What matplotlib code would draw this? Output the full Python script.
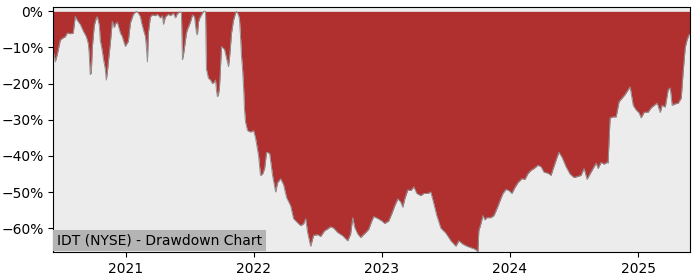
import numpy as np
import pandas as pd
import matplotlib
matplotlib.use('Agg')
import matplotlib.pyplot as plt
import matplotlib.dates as mdates
from matplotlib.ticker import PercentFormatter

titulo = 'IDT (NYSE) - Drawdown Chart'

# fecha en años decimales y caída desde máximos en %
anios = [
    2020.435, 2020.443, 2020.451, 2020.466, 2020.490, 2020.505, 2020.529, 2020.545,
    2020.568, 2020.591, 2020.607, 2020.623, 2020.646, 2020.670, 2020.693, 2020.709,
    2020.716, 2020.724, 2020.732, 2020.740, 2020.755, 2020.771, 2020.779, 2020.795,
    2020.802, 2020.818, 2020.826, 2020.841, 2020.849, 2020.857, 2020.865, 2020.880,
    2020.896, 2020.912, 2020.920, 2020.935, 2020.951, 2020.959, 2020.974, 2020.982,
    2020.998, 2021.005, 2021.021, 2021.037, 2021.060, 2021.084, 2021.099, 2021.115,
    2021.123, 2021.138, 2021.154, 2021.162, 2021.170, 2021.177, 2021.193, 2021.209,
    2021.232, 2021.248, 2021.271, 2021.287, 2021.295, 2021.310, 2021.334, 2021.349,
    2021.373, 2021.388, 2021.404, 2021.420, 2021.435, 2021.443, 2021.451, 2021.459,
    2021.474, 2021.482, 2021.505, 2021.521, 2021.537, 2021.552, 2021.560, 2021.568,
    2021.576, 2021.591, 2021.607, 2021.623, 2021.630, 2021.646, 2021.662, 2021.677,
    2021.693, 2021.701, 2021.709, 2021.716, 2021.724, 2021.732, 2021.748, 2021.755,
    2021.771, 2021.787, 2021.802, 2021.810, 2021.826, 2021.841, 2021.857, 2021.865,
    2021.880, 2021.888, 2021.896, 2021.904, 2021.912, 2021.920, 2021.927, 2021.935,
    2021.951, 2021.974, 2021.998, 2022.013, 2022.037, 2022.052, 2022.068, 2022.084,
    2022.099, 2022.123, 2022.146, 2022.170, 2022.185, 2022.209, 2022.232, 2022.255,
    2022.287, 2022.310, 2022.341, 2022.365, 2022.388, 2022.404, 2022.420, 2022.443,
    2022.466, 2022.498, 2022.521, 2022.552, 2022.576, 2022.599, 2022.623, 2022.654,
    2022.693, 2022.732, 2022.755, 2022.771, 2022.787, 2022.810, 2022.834, 2022.849,
    2022.873, 2022.896, 2022.920, 2022.935, 2022.966, 2022.998, 2023.021, 2023.052,
    2023.076, 2023.099, 2023.123, 2023.146, 2023.162, 2023.177, 2023.201, 2023.224,
    2023.248, 2023.271, 2023.302, 2023.326, 2023.357, 2023.380, 2023.404, 2023.427,
    2023.459, 2023.498, 2023.537, 2023.576, 2023.599, 2023.630, 2023.662, 2023.693,
    2023.724, 2023.748, 2023.755, 2023.771, 2023.787, 2023.802, 2023.818, 2023.849,
    2023.873, 2023.896, 2023.920, 2023.943, 2023.966, 2023.990, 2024.013, 2024.037,
    2024.060, 2024.091, 2024.115, 2024.138, 2024.162, 2024.185, 2024.216, 2024.240,
    2024.263, 2024.295, 2024.318, 2024.341, 2024.365, 2024.380, 2024.404, 2024.435,
    2024.466, 2024.498, 2024.552, 2024.576, 2024.599, 2024.630, 2024.670, 2024.685,
    2024.709, 2024.732, 2024.755, 2024.763, 2024.779, 2024.802, 2024.826, 2024.849,
    2024.873, 2024.896, 2024.920, 2024.935, 2024.959, 2024.982, 2025.005, 2025.021,
    2025.045, 2025.076, 2025.099, 2025.123, 2025.146, 2025.170, 2025.185, 2025.209,
    2025.232, 2025.248, 2025.263, 2025.287, 2025.310, 2025.334, 2025.349, 2025.365,
    2025.380, 2025.396, 2025.404,
]

caida = [
    -11.4, -12.0, -14.0, -12.0, -8.0, -7.5, -7.0, -6.0,
    -6.2, -6.0, -1.4, -2.5, -3.6, -5.5, -7.0, -9.0,
    -12.0, -17.5, -17.0, -10.0, -4.0, -1.8, -1.5, -4.0,
    -8.0, -11.0, -13.0, -16.0, -19.0, -17.0, -14.0, -9.0,
    -2.8, -4.5, -3.5, -3.0, -5.0, -6.0, -7.0, -8.0,
    -9.7, -9.2, -8.3, -3.2, -0.8, 0.0, -0.5, -1.5,
    -3.0, -5.0, -7.0, -10.0, -14.0, -6.0, -1.5, -1.0,
    -1.2, -0.8, -1.8, -1.2, -3.6, -1.5, -0.8, -1.2,
    -0.5, -1.8, -0.6, -0.2, -0.3, -13.4, -12.0, -10.0,
    -6.0, -5.0, -3.0, -1.0, -1.5, -6.0, -6.5, -3.0,
    -2.0, -1.0, 0.0, 0.0, -16.0, -18.5, -19.0, -20.0,
    -19.5, -19.0, -22.0, -23.6, -23.0, -21.0, -9.7, -10.0,
    -10.5, -13.0, -15.3, -13.0, -6.0, -2.5, -0.5, 0.0,
    -1.0, -2.2, -7.0, -12.5, -16.0, -21.0, -27.0, -30.6,
    -33.0, -33.4, -33.0, -35.0, -40.0, -45.4, -45.0, -43.5,
    -39.0, -39.3, -45.4, -50.0, -47.4, -46.3, -48.0, -51.5,
    -53.8, -57.4, -58.5, -59.3, -58.8, -57.4, -61.3, -65.0,
    -62.0, -61.8, -62.3, -60.7, -60.2, -59.6, -60.0, -61.2,
    -62.1, -63.5, -61.6, -57.1, -59.8, -61.6, -62.6, -62.0,
    -61.2, -60.3, -58.0, -56.8, -57.3, -58.0, -58.7, -58.0,
    -56.0, -53.8, -51.9, -52.8, -54.2, -51.9, -49.4, -49.6,
    -48.6, -50.4, -51.0, -50.4, -50.4, -50.0, -53.2, -56.5,
    -60.0, -61.4, -63.5, -65.0, -63.5, -64.4, -65.0, -65.4,
    -65.8, -66.5, -60.7, -58.8, -56.5, -57.7, -57.1, -57.1,
    -56.5, -54.6, -52.4, -50.4, -49.3, -49.6, -50.4, -48.7,
    -47.4, -46.3, -46.5, -44.9, -44.0, -43.5, -42.6, -43.0,
    -44.5, -44.8, -45.4, -42.9, -40.4, -39.0, -40.4, -43.0,
    -45.0, -46.0, -45.4, -43.5, -46.5, -44.5, -42.0, -43.5,
    -41.8, -42.3, -41.8, -42.0, -29.5, -29.2, -29.2, -25.0,
    -24.0, -23.0, -21.7, -20.9, -26.0, -27.3, -28.1, -29.5,
    -27.9, -27.9, -26.7, -26.0, -25.4, -28.0, -26.0, -26.5,
    -21.7, -21.2, -26.0, -25.6, -25.4, -24.0, -16.7, -10.0,
    -7.8, -6.4, -6.5,
]


def aFechas(valores):
    base = pd.Timestamp('2021-01-01')
    dias = (np.array(valores) - 2021.0) * 365.25
    return base + pd.to_timedelta(dias, unit='D')


fechas = aFechas(anios)

fig = plt.figure(figsize=(7, 2.8), dpi=100)
ax = fig.add_axes([0.076, 0.1, 0.910, 0.875])
ax.set_facecolor('#ececec')

ax.fill_between(fechas, caida, 0, color='#b03030', linewidth=0)
ax.plot(fechas, caida, color='#909090', linewidth=0.7)

ax.set_xlim(fechas[0], fechas[-1])
ax.set_ylim(min(caida) - 0.1, 1.2)
ax.set_yticks([0, -10, -20, -30, -40, -50, -60])
ax.yaxis.set_major_formatter(PercentFormatter(xmax=100, decimals=0))
ax.xaxis.set_major_locator(mdates.YearLocator())
ax.xaxis.set_major_formatter(mdates.DateFormatter('%Y'))

ax.text(0.0055, 0.018, titulo, transform=ax.transAxes, fontsize=10,
        va='bottom', ha='left',
        bbox=dict(facecolor='#b4b4b4', edgecolor='none', pad=2.8))

plt.savefig('out.png', dpi=100)
plt.close()
